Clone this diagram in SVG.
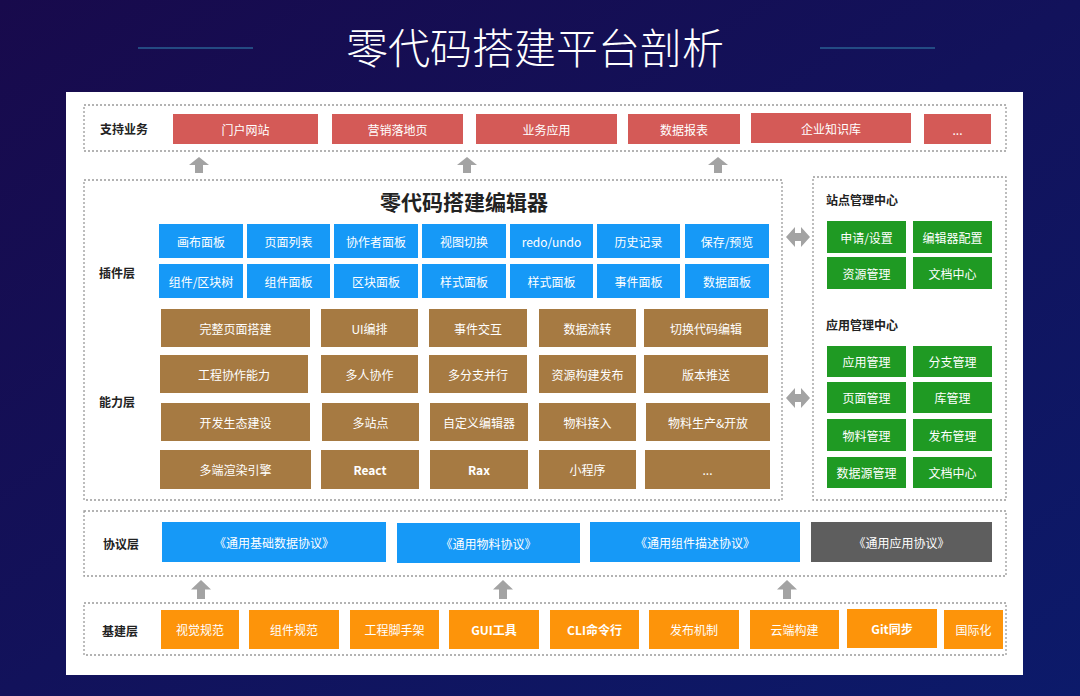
<svg xmlns="http://www.w3.org/2000/svg" width="1080" height="696" viewBox="0 0 1080 696">
<defs>
<linearGradient id="bg" x1="0" y1="0" x2="1" y2="1">
<stop offset="0" stop-color="#180a4c"/>
<stop offset="1" stop-color="#0c1a6a"/>
</linearGradient>
<path id="up" d="M0,0 L10,8 L4,8 L4,16 L-4,16 L-4,8 L-10,8 Z" fill="#a3a3a3"/>
<path id="dbl" d="M0,0 L9,-10 L9,-4 L15,-4 L15,-10 L24,0 L15,10 L15,4 L9,4 L9,10 Z" fill="#a3a3a3"/>
</defs>
<style>
.dash{fill:none;stroke:#9a9a9a;stroke-width:1.3;stroke-dasharray:2 2}
.red{fill:#d45a57}
.blue{fill:#1699f7}
.brown{fill:#a67a42}
.green{fill:#1f9a23}
.orange{fill:#fd940a}
.grey{fill:#5e5e5e}
.t{font-family:"Noto Sans CJK SC","Liberation Sans",sans-serif;font-size:12px;fill:#fff;text-anchor:middle;dominant-baseline:central}
.lb{font-family:"Noto Sans CJK SC","Liberation Sans",sans-serif;font-size:12px;font-weight:bold;fill:#222;dominant-baseline:central}
</style>
<rect width="1080" height="696" fill="url(#bg)"/>
<g id="header">
<line x1="138" y1="48" x2="253" y2="48" stroke="#2a5f93" stroke-width="1.5"/>
<line x1="820" y1="48" x2="935" y2="48" stroke="#2a5f93" stroke-width="1.5"/>
<text x="535" y="45" font-family="Noto Sans CJK SC, sans-serif" font-size="42" font-weight="300" fill="#fff" text-anchor="middle" dominant-baseline="central">零代码搭建平台剖析</text>
</g>
<rect x="66" y="92" width="957" height="583" fill="#fff"/>

<g id="support">
<rect class="dash" x="84" y="105" width="922" height="46"/>
<text class="lb" x="100" y="128">支持业务</text>
<rect class="red" x="173" y="114" width="145" height="30"/><text class="t" x="245.5" y="129">门户网站</text>
<rect class="red" x="332" y="114" width="131" height="30"/><text class="t" x="397.5" y="129">营销落地页</text>
<rect class="red" x="476" y="114" width="141" height="30"/><text class="t" x="546.5" y="129">业务应用</text>
<rect class="red" x="628" y="114" width="112" height="30"/><text class="t" x="684" y="129">数据报表</text>
<rect class="red" x="751" y="113" width="160" height="30"/><text class="t" x="831" y="128">企业知识库</text>
<rect class="red" x="924" y="114" width="67" height="30"/><text class="t" x="957.5" y="129">...</text>
</g>

<g id="editor">
<rect class="dash" x="84" y="180" width="698" height="320"/>
<text x="464" y="201" font-family="Noto Sans CJK SC, sans-serif" font-size="21" font-weight="bold" fill="#222" text-anchor="middle" dominant-baseline="central">零代码搭建编辑器</text>
<text class="lb" x="99" y="272">插件层</text>
<text class="lb" x="99" y="401">能力层</text>
</g>

<g id="plugins">
<rect class="blue" x="159" y="224" width="84" height="34"/><text class="t" x="201" y="241">画布面板</text>
<rect class="blue" x="247" y="224" width="83" height="34"/><text class="t" x="288.5" y="241">页面列表</text>
<rect class="blue" x="334" y="224" width="84" height="34"/><text class="t" x="376" y="241">协作者面板</text>
<rect class="blue" x="422" y="224" width="84" height="34"/><text class="t" x="464" y="241">视图切换</text>
<rect class="blue" x="510" y="224" width="83" height="34"/><text class="t" x="551.5" y="241">redo/undo</text>
<rect class="blue" x="597" y="224" width="83" height="34"/><text class="t" x="638.5" y="241">历史记录</text>
<rect class="blue" x="685" y="224" width="84" height="34"/><text class="t" x="727" y="241">保存/预览</text>
<rect class="blue" x="159" y="264" width="84" height="34"/><text class="t" x="201" y="281">组件/区块树</text>
<rect class="blue" x="247" y="264" width="83" height="34"/><text class="t" x="288.5" y="281">组件面板</text>
<rect class="blue" x="334" y="264" width="84" height="34"/><text class="t" x="376" y="281">区块面板</text>
<rect class="blue" x="422" y="264" width="84" height="34"/><text class="t" x="464" y="281">样式面板</text>
<rect class="blue" x="510" y="264" width="83" height="34"/><text class="t" x="551.5" y="281">样式面板</text>
<rect class="blue" x="597" y="264" width="83" height="34"/><text class="t" x="638.5" y="281">事件面板</text>
<rect class="blue" x="685" y="264" width="84" height="34"/><text class="t" x="727" y="281">数据面板</text>
</g>

<g id="capabilities">
<rect class="brown" x="161" y="309" width="149" height="38"/><text class="t" x="235.5" y="328">完整页面搭建</text>
<rect class="brown" x="321" y="309" width="97" height="38"/><text class="t" x="369.5" y="328">UI编排</text>
<rect class="brown" x="429" y="309" width="98" height="38"/><text class="t" x="478" y="328">事件交互</text>
<rect class="brown" x="539" y="309" width="97" height="38"/><text class="t" x="587.5" y="328">数据流转</text>
<rect class="brown" x="644" y="309" width="124" height="38"/><text class="t" x="706" y="328">切换代码编辑</text>

<rect class="brown" x="160" y="355" width="148" height="38"/><text class="t" x="234" y="374">工程协作能力</text>
<rect class="brown" x="321" y="355" width="97" height="38"/><text class="t" x="369.5" y="374">多人协作</text>
<rect class="brown" x="429" y="355" width="98" height="38"/><text class="t" x="478" y="374">多分支并行</text>
<rect class="brown" x="539" y="355" width="97" height="38"/><text class="t" x="587.5" y="374">资源构建发布</text>
<rect class="brown" x="644" y="355" width="124" height="38"/><text class="t" x="706" y="374">版本推送</text>

<rect class="brown" x="161" y="403" width="149" height="38"/><text class="t" x="235.5" y="422">开发生态建设</text>
<rect class="brown" x="322" y="403" width="97" height="38"/><text class="t" x="370.5" y="422">多站点</text>
<rect class="brown" x="430" y="403" width="98" height="38"/><text class="t" x="479" y="422">自定义编辑器</text>
<rect class="brown" x="539" y="403" width="97" height="38"/><text class="t" x="587.5" y="422">物料接入</text>
<rect class="brown" x="646" y="403" width="124" height="38"/><text class="t" x="708" y="422">物料生产&amp;开放</text>

<rect class="brown" x="160" y="450" width="151" height="39"/><text class="t" x="235.5" y="469.5">多端渲染引擎</text>
<rect class="brown" x="321" y="450" width="98" height="39"/><text class="t" x="370" y="469.5" font-weight="bold">React</text>
<rect class="brown" x="430" y="450" width="98" height="39"/><text class="t" x="479" y="469.5" font-weight="bold">Rax</text>
<rect class="brown" x="539" y="450" width="97" height="39"/><text class="t" x="587.5" y="469.5">小程序</text>
<rect class="brown" x="645" y="450" width="125" height="39"/><text class="t" x="707.5" y="469.5">...</text>
</g>

<g id="management">
<rect class="dash" x="813" y="177" width="193" height="323"/>
<text class="lb" x="826" y="199">站点管理中心</text>
<rect class="green" x="827" y="221" width="79" height="32"/><text class="t" x="866.5" y="237">申请/设置</text>
<rect class="green" x="913" y="221" width="79" height="32"/><text class="t" x="952.5" y="237">编辑器配置</text>
<rect class="green" x="827" y="257" width="79" height="32"/><text class="t" x="866.5" y="273">资源管理</text>
<rect class="green" x="913" y="257" width="79" height="32"/><text class="t" x="952.5" y="273">文档中心</text>
<text class="lb" x="826" y="324">应用管理中心</text>
<rect class="green" x="827" y="346" width="79" height="31"/><text class="t" x="866.5" y="361.5">应用管理</text>
<rect class="green" x="913" y="346" width="79" height="31"/><text class="t" x="952.5" y="361.5">分支管理</text>
<rect class="green" x="827" y="382" width="79" height="31"/><text class="t" x="866.5" y="397.5">页面管理</text>
<rect class="green" x="913" y="382" width="79" height="31"/><text class="t" x="952.5" y="397.5">库管理</text>
<rect class="green" x="827" y="419" width="79" height="32"/><text class="t" x="866.5" y="435">物料管理</text>
<rect class="green" x="913" y="419" width="79" height="32"/><text class="t" x="952.5" y="435">发布管理</text>
<rect class="green" x="827" y="457" width="79" height="31"/><text class="t" x="866.5" y="472.5">数据源管理</text>
<rect class="green" x="913" y="457" width="79" height="31"/><text class="t" x="952.5" y="472.5">文档中心</text>
</g>

<g id="protocol">
<rect class="dash" x="84" y="511" width="922" height="65"/>
<text class="lb" x="103" y="543">协议层</text>
<rect class="blue" x="162" y="522" width="224" height="40"/><text class="t" x="274" y="542">《通用基础数据协议》</text>
<rect class="blue" x="397" y="523" width="183" height="40"/><text class="t" x="488.5" y="543">《通用物料协议》</text>
<rect class="blue" x="590" y="522" width="210" height="40"/><text class="t" x="695" y="542">《通用组件描述协议》</text>
<rect class="grey" x="811" y="522" width="181" height="40"/><text class="t" x="901.5" y="542">《通用应用协议》</text>
</g>

<g id="infrastructure">
<rect class="dash" x="84" y="603" width="922" height="52"/>
<text class="lb" x="102" y="630">基建层</text>
<rect class="orange" x="161" y="610" width="78" height="39"/><text class="t" x="200" y="629.5">视觉规范</text>
<rect class="orange" x="249" y="610" width="90" height="39"/><text class="t" x="294" y="629.5">组件规范</text>
<rect class="orange" x="350" y="610" width="89" height="39"/><text class="t" x="394.5" y="629.5">工程脚手架</text>
<rect class="orange" x="449" y="610" width="90" height="39"/><text class="t" x="494" y="629.5" font-weight="bold">GUI工具</text>
<rect class="orange" x="550" y="610" width="89" height="39"/><text class="t" x="594.5" y="629.5" font-weight="bold">CLI命令行</text>
<rect class="orange" x="649" y="610" width="90" height="39"/><text class="t" x="694" y="629.5">发布机制</text>
<rect class="orange" x="750" y="610" width="89" height="39"/><text class="t" x="794.5" y="629.5">云端构建</text>
<rect class="orange" x="847" y="609" width="90" height="39"/><text class="t" x="892" y="628.5" font-weight="bold">Git同步</text>
<rect class="orange" x="944" y="610" width="59" height="39"/><text class="t" x="973.5" y="629.5">国际化</text>
</g>

<g id="connectors">
<use href="#up" x="199" y="157"/>
<use href="#up" x="467" y="157"/>
<use href="#up" x="718" y="157"/>
<use href="#dbl" x="786" y="237"/>
<use href="#dbl" x="786" y="398"/>
<use href="#up" transform="translate(201,580) scale(1,1.19)"/>
<use href="#up" transform="translate(503,580) scale(1,1.19)"/>
<use href="#up" transform="translate(787,580) scale(1,1.19)"/>
</g>
</svg>
